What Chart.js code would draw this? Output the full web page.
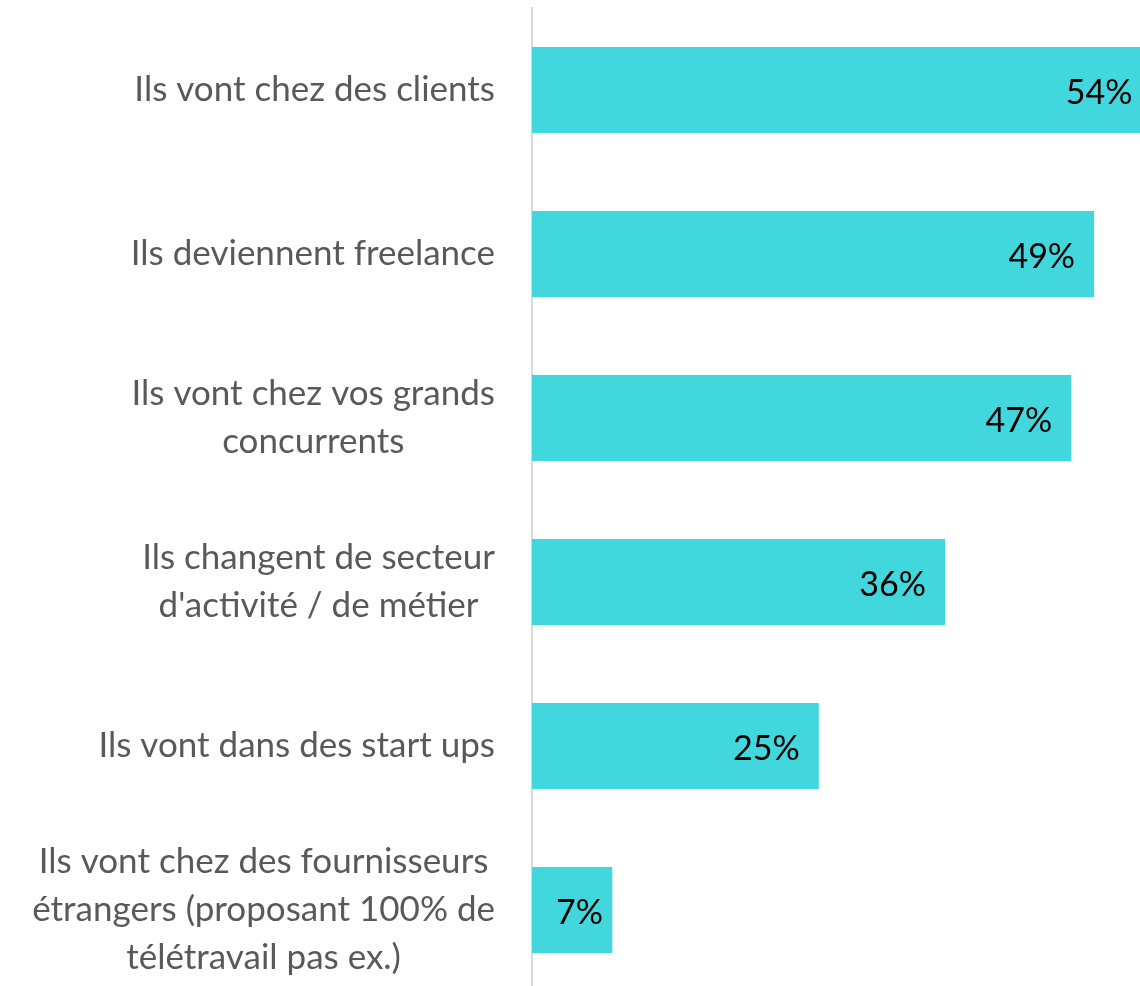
<!DOCTYPE html>
<html>
<head>
<meta charset="utf-8">
<script src="https://cdn.jsdelivr.net/npm/chart.js@4/dist/chart.umd.min.js"></script>
<style>
html,body{margin:0;padding:0;background:#fff;overflow:hidden;}
#wrap{width:1140px;height:1000px;position:relative;}
</style>
</head>
<body>
<div id="wrap"><canvas id="c"></canvas></div>
<script>
const categories = [
  ["Ils vont chez des clients"],
  ["Ils deviennent freelance"],
  ["Ils vont chez vos grands", "concurrents"],
  ["Ils changent de secteur", "d'activité / de métier"],
  ["Ils vont dans des start ups"],
  ["Ils vont chez des fournisseurs", "étrangers (proposant 100% de", "télétravail pas ex.)"]
];
const values = [54, 49, 47, 36, 25, 7];
const valueLabels = ["54%", "49%", "47%", "36%", "25%", "7%"];

const FONT = "Lato, 'Open Sans', sans-serif";
const LABEL_SIZE = 35;
const VALUE_SIZE = 34;
const LINE_H = 48;
const AXIS_W = 532;

const labelPlugin = {
  id: 'labelPlugin',
  afterDraw(chart) {
    const ctx = chart.ctx;
    const y = chart.scales.y;
    ctx.save();
    ctx.font = LABEL_SIZE + 'px ' + FONT;
    ctx.fillStyle = '#595959';
    ctx.textBaseline = 'middle';
    ctx.textAlign = 'center';
    categories.forEach((lines, i) => {
      const cy = y.getPixelForTick(i);
      let maxW = 0;
      lines.forEach(l => { maxW = Math.max(maxW, ctx.measureText(l).width); });
      const cx = 495 - maxW / 2;
      const startY = cy - (lines.length - 1) * LINE_H / 2;
      lines.forEach((l, k) => ctx.fillText(l, cx, startY + k * LINE_H));
    });
    const meta = chart.getDatasetMeta(0);
    ctx.font = VALUE_SIZE + 'px ' + FONT;
    ctx.fillStyle = '#000000';
    ctx.textAlign = 'left';
    meta.data.forEach((bar, i) => {
      const t = valueLabels[i];
      const w = ctx.measureText(t).width;
      let left = bar.x - 19 - w;
      if (left < bar.base + 24) left = bar.base + 24;
      ctx.fillText(t, left, bar.y + 3);
    });
    ctx.restore();
  }
};

new Chart(document.getElementById('c'), {
  type: 'bar',
  data: {
    labels: categories.map(c => c.join(' ')),
    datasets: [{
      data: values,
      backgroundColor: '#42D6DD',
      borderWidth: 0,
      barPercentage: 0.525,
      categoryPercentage: 1.0
    }]
  },
  options: {
    indexAxis: 'y',
    responsive: true,
    maintainAspectRatio: false,
    animation: false,
    layout: { padding: { top: 8, bottom: 8, left: 0, right: 0 } },
    plugins: { legend: { display: false }, tooltip: { enabled: false } },
    scales: {
      x: { display: false, min: 0, max: 53.0 },
      y: {
        grid: { display: false, drawTicks: false },
        border: { display: true, color: '#D9D9D9', width: 2 },
        ticks: { display: false },
        afterFit(scale) { scale.width = AXIS_W; }
      }
    }
  },
  plugins: [labelPlugin]
});
</script>
</body>
</html>
